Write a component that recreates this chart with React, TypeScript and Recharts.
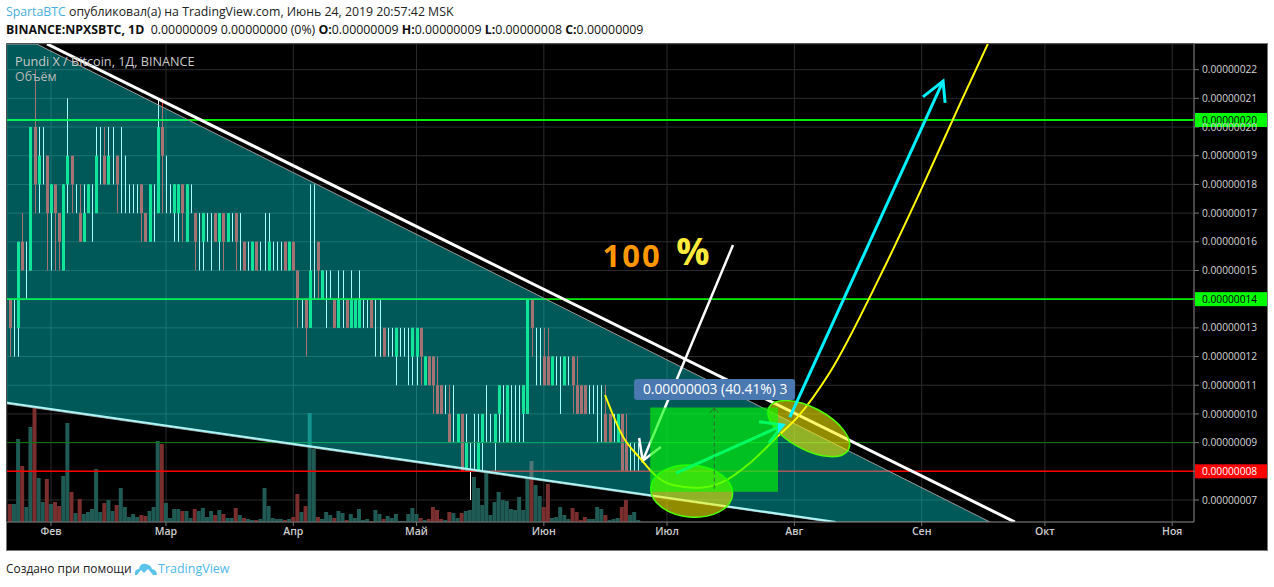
import React from 'react';
import { ComposedChart, Bar, Line, Area, Cell, XAxis, YAxis, CartesianGrid, ReferenceArea, ReferenceDot } from 'recharts';

// days are counted from Feb 1, prices are in satoshi
const START_DAY = -10;
const opens = [14,13,13,16,15,15,20,18,19,19,17,18,17,15,18,19,18,17,16,17,17,17,19,19,18,19,19,18,18,18,18,18,18,17,16,17,17,20,18,18,17,17,18,16,18,17,16,16,16,16,17,16,17,16,16,17,16,16,15,15,16,15,16,15,15,15,15,16,15,16,15,14,14,13,15,16,14,14,15,14,13,14,14,13,13,13,13,13,14,13,13,13,12,12,12,12,12,12,12,12,13,11,12,12,11,11,10,10,10,9,10,8,8,9,8,9,10,9,9,10,10,9,10,10,10,10,10,14,12,12,12,12,11,11,11,11,11,12,11,11,11,10,10,10,10,10,10,9,9,10,9,8,8,8];
const highs = [14,14,16,17,16,20,22,20,20,19,18,18,17,18,21,19,18,18,18,18,18,20,20,20,20,20,19,20,19,18,18,18,18,17,18,18,21,21,19,18,18,18,18,18,18,17,17,17,17,17,17,17,17,17,17,17,17,16,16,16,16,16,17,17,16,16,16,16,16,16,15,14,14,18,18,16,15,15,15,14,15,15,14,15,14,15,14,14,14,14,14,13,13,13,13,13,13,13,13,13,13,12,12,12,12,11,11,11,11,10,10,10,9,10,10,10,11,10,10,11,11,11,11,11,11,11,14,14,13,13,13,13,12,12,12,12,12,12,12,11,11,11,11,11,11,11,10,10,10,10,10,9,9,9];
const lows = [12,12,12,15,14,15,17,17,18,15,15,15,15,15,17,17,17,16,16,17,16,17,18,18,18,18,17,17,17,17,17,17,16,16,16,16,17,17,17,17,16,16,16,16,17,15,15,15,16,15,16,15,15,16,16,15,15,15,15,15,15,15,15,15,15,15,15,15,15,15,13,13,12,13,14,14,14,13,14,13,13,13,13,13,13,13,13,13,13,12,12,12,12,12,11,12,12,11,11,11,11,11,11,10,10,10,10,9,9,9,8,8,7,8,8,8,9,9,8,9,9,9,9,9,9,9,10,12,11,11,11,11,11,11,10,11,11,10,10,10,10,10,10,9,9,9,9,9,9,8,8,8,8,8];
const closes = [13,13,16,15,15,20,18,19,19,17,18,17,16,18,19,18,18,16,17,18,17,19,19,18,19,19,18,18,18,18,18,18,17,16,18,17,20,19,18,18,18,18,17,18,18,16,16,17,16,16,16,17,16,17,16,16,16,15,15,16,15,15,16,16,15,15,15,15,16,15,14,14,13,15,15,15,15,14,15,13,14,14,13,14,14,14,13,13,13,13,13,12,12,12,13,12,12,12,13,13,12,12,11,11,10,10,10,9,10,10,8,9,8,9,9,10,10,9,10,11,10,11,10,10,10,11,14,13,12,12,11,11,12,11,11,12,11,11,10,10,10,10,10,10,10,9,9,9,10,8,8,8,8,8];
const volumes = [18,18,83,56,15,95,115,44,20,43,18,20,16,46,99,30,9,23,8,10,13,53,10,19,22,11,17,34,15,5,8,5,7,6,11,15,81,78,19,4,13,13,11,11,4,13,11,14,5,11,7,12,8,4,4,14,7,4,3,2,2,3,34,16,4,3,3,2,3,5,28,10,16,109,73,5,3,10,7,4,11,9,2,8,4,13,2,3,1,12,8,3,6,4,8,1,1,8,14,8,4,2,3,15,12,3,2,10,9,4,9,11,12,45,34,17,50,7,20,30,22,21,13,12,25,12,43,61,37,26,15,38,4,5,15,7,3,14,10,2,5,3,3,15,13,7,2,3,4,15,22,7,10,2];
const redVolumeBars = [0,3,6,9,11,12,15,17,23,26,32,33,37,42,45,50,52,55,57,60,67,69,70,72,75,79,82,88,91,100,102,103,104,105,107,110,127,130,131,137,138,139,140,145,149,150];

const priceTicks = [7,8,9,10,11,12,13,14,15,16,17,18,19,20,21,22];
const taggedTicks = [8,14]; // the coloured price tags sit right on these two
const monthDays = [0,28,59,89,120,150,181,212,242,273];
const monthNames = ['Фев','Мар','Апр','Май','Июн','Июл','Авг','Сен','Окт','Ноя'];

const DAY_MIN = -10.71;
const DAY_MAX = 278.3;
const PRICE_MIN = 6.233;
const PRICE_MAX = 22.894;

const wedgeBand = [
  { day: -10.71, band: [10.35, PRICE_MAX] },
  { day: -3.48, band: [10.2, PRICE_MAX] },
  { day: 189.5, band: [PRICE_MIN, 9.05] },
  { day: 228.6, band: [PRICE_MIN, PRICE_MIN] },
];
const upperTrend = [{ day: -0.97, price: PRICE_MAX }, { day: 234.7, price: PRICE_MIN }];
const lowerTrend = [{ day: -10.71, price: 10.39 }, { day: 191.1, price: PRICE_MIN }];
const levelHigh = [{ day: DAY_MIN, price: 20.245 }, { day: DAY_MAX, price: 20.245 }];
const levelMid = [{ day: DAY_MIN, price: 14 }, { day: DAY_MAX, price: 14 }];
const levelClose = [{ day: DAY_MIN, price: 9 }, { day: DAY_MAX, price: 9 }];
const levelLow = [{ day: DAY_MIN, price: 8 }, { day: DAY_MAX, price: 8 }];

const whiteShaft = [{ day: 166.06, price: 15.89 }, { day: 144.07, price: 8.37 }];
const whiteHead = [{ day: 143.2, price: 9.16 }, { day: 144.07, price: 8.37 }, { day: 148.5, price: 8.85 }];
const cyanShaft = [{ day: 179.9, price: 9.89 }, { day: 217.2, price: 21.6 }];
const cyanHead = [{ day: 212.3, price: 21.05 }, { day: 217.2, price: 21.6 }, { day: 217.7, price: 20.84 }];
const entryShaft = [{ day: 152.2, price: 7.94 }, { day: 178.2, price: 9.61 }];
const entryHead = [{ day: 172.4, price: 9.73 }, { day: 178.2, price: 9.61 }, { day: 174.8, price: 8.99 }];
const yellowCurve = [
  { day: 134.9, price: 10.66 }, { day: 139.3, price: 9.2 }, { day: 143.4, price: 8.46 },
  { day: 147.6, price: 7.8 }, { day: 151.4, price: 7.52 }, { day: 157.3, price: 7.42 },
  { day: 163.6, price: 7.63 }, { day: 170.2, price: 8.29 }, { day: 176.8, price: 9.2 },
  { day: 181.6, price: 9.86 }, { day: 189.7, price: 11.46 }, { day: 201.9, price: 14.81 },
  { day: 211.6, price: 17.74 }, { day: 221.3, price: 20.8 }, { day: 228.1, price: PRICE_MAX },
];
const rangeStem = [{ day: 161.5, price: 10.22 }, { day: 161.5, price: 7.29 }];
const rangeChevron = [{ day: 160.4, price: 10.03 }, { day: 161.5, price: 10.21 }, { day: 162.5, price: 10.03 }];

const candles = opens.map((open, i) => ({
  day: START_DAY + i,
  open,
  high: highs[i],
  low: lows[i],
  close: closes[i],
  volume: volumes[i],
}));

const BODY_UP = '#19d662';
const BODY_DOWN = '#fe2929';
const priceLabel = (v: number) => `0.000000${String(v).padStart(2, '0')}`;
const FONT = '"Open Sans", sans-serif';

const CandleShape = ({ x, y, width, height, payload }: any) => {
  const { open, close, high, low } = payload;
  const span = Math.abs(height);
  const perUnit = span / (high - low);
  const top = y + (high - Math.max(open, close)) * perUnit;
  const bodyHeight = Math.abs(close - open) * perUnit;
  const center = Math.round(x + width / 2);
  const down = close < open;
  return (
    <g>
      <rect x={center} y={y} width={1} height={span} fill={down ? BODY_DOWN : '#ffffff'} />
      {bodyHeight > 0 && (
        <rect x={center - 1} y={top} width={3} height={bodyHeight} fill={down ? BODY_DOWN : BODY_UP} />
      )}
    </g>
  );
};

const PriceTag = ({ cx, cy, fill, color, text }: any) => (
  <g>
    <rect x={cx + 1} y={cy - 7} width={72} height={14} fill={fill} />
    <text x={cx + 8} y={cy + 4} fontSize={10.2} fontFamily={FONT} fill={color}>{text}</text>
  </g>
);

const Blob = ({ cx, cy, rx, ry, angle }: any) => (
  <ellipse cx={cx} cy={cy} rx={rx} ry={ry} transform={`rotate(${angle} ${cx} ${cy})`}
    fill="#fff500" fillOpacity={0.57} stroke="#4dff00" strokeWidth={1.5} />
);

const RangeBadge = ({ cx, cy }: any) => (
  <g>
    <rect x={cx - 81} y={cy - 11} width={161} height={21} rx={3} fill="#4a78b0" />
    <text x={cx} y={cy + 4} textAnchor="middle" fontSize={13.8} fontFamily={FONT} fill="#ffffff">
      0.00000003 (40.41%) 3
    </text>
  </g>
);

const BigText = ({ cx, cy, fill, size, text, spacing }: any) => (
  <text x={cx} y={cy} textAnchor="middle" dominantBaseline="middle" fontSize={size} fontWeight={700}
    letterSpacing={spacing} fontFamily={FONT} fill={fill}>{text}</text>
);

const TrendLine = (props: any) => (
  <Line yAxisId="price" dataKey="price" type="linear" dot={false} activeDot={false}
    isAnimationActive={false} legendType="none" {...props} />
);

export default function App() {
  return (
    <div style={{ position: 'absolute', left: 0, top: 0, width: 1274, height: 587, background: '#fff', overflow: 'hidden', fontFamily: FONT }}>
      <div style={{ position: 'absolute', left: 6, top: 3, fontSize: 12.3, color: '#222', whiteSpace: 'nowrap', lineHeight: '17px' }}>
        <span style={{ color: '#4aaee0' }}>SpartaBTC</span> опубликовал(а) на TradingView.com, Июнь 24, 2019 20:57:42 MSK
      </div>
      <div style={{ position: 'absolute', left: 6, top: 21, fontSize: 12.35, color: '#111', whiteSpace: 'nowrap', lineHeight: '17px' }}>
        <b>BINANCE:NPXSBTC, 1D</b>&nbsp; 0.00000009 0.00000000 (0%) <b>O:</b>0.00000009 <b>H:</b>0.00000009 <b>L:</b>0.00000008 <b>C:</b>0.00000009
      </div>
      <div style={{ position: 'absolute', left: 6, top: 43, width: 1260, height: 506, background: '#000', border: '1px solid #777' }} />

      <div style={{ position: 'absolute', left: 0, top: 0 }}>
        <ComposedChart width={1274} height={587} data={candles} margin={{ top: 44, right: 7, left: 7, bottom: 37 }}>
          <XAxis dataKey="day" type="number" domain={[DAY_MIN, DAY_MAX]} allowDataOverflow ticks={monthDays} interval={0}
            height={28} stroke="#777" tickSize={4} tick={{ fill: '#ccc', fontSize: 10.5, fontFamily: FONT, fontWeight: 600 }}
            tickFormatter={(d: number) => monthNames[monthDays.indexOf(d)]} />
          <XAxis xAxisId="vol" dataKey="day" type="number" domain={[DAY_MIN, DAY_MAX]} allowDataOverflow hide />
          <YAxis yAxisId="price" orientation="right" width={73} domain={[PRICE_MIN, PRICE_MAX]} allowDataOverflow ticks={priceTicks} interval={0}
            stroke="#777" tickSize={5} tickMargin={3} tick={{ fill: '#d4d4d4', fontSize: 10.2, fontFamily: FONT }}
            tickFormatter={(v: number) => (taggedTicks.includes(v) ? '' : priceLabel(v))} />
          <YAxis yAxisId="vol" hide domain={[0, 478]} allowDataOverflow />
          <CartesianGrid yAxisId="price" stroke="#2c2c2c" strokeWidth={1} />

          <Bar xAxisId="vol" yAxisId="vol" dataKey="volume" barSize={4} isAnimationActive={false} zIndex={10}>
            {candles.map((c, i) => (
              <Cell key={c.day} fill={redVolumeBars.includes(i) ? '#7a2e2e' : '#1f5a55'} />
            ))}
          </Bar>
          <Bar yAxisId="price" dataKey={(c: any) => [c.low, c.high]} barSize={3} shape={(p: any) => <CandleShape {...p} />}
            isAnimationActive={false} zIndex={20} />

          <TrendLine data={levelClose} stroke="#0f7a0f" strokeWidth={1} zIndex={30} />
          <TrendLine data={levelLow} stroke="#ff0000" strokeWidth={1.6} zIndex={30} />
          <TrendLine data={levelMid} stroke="#00ee00" strokeWidth={1.8} zIndex={30} />
          <TrendLine data={levelHigh} stroke="#00ee00" strokeWidth={1.8} zIndex={30} />

          <Area yAxisId="price" data={wedgeBand} dataKey="band" type="linear" fill="#00ffff" fillOpacity={0.35}
            stroke="#9a9a9a" strokeWidth={1} dot={false} activeDot={false} isAnimationActive={false} zIndex={40} />
          <TrendLine data={upperTrend} stroke="#ffffff" strokeWidth={3} zIndex={50} />
          <TrendLine data={lowerTrend} stroke="#aef6f6" strokeWidth={2} zIndex={50} />

          <TrendLine data={whiteShaft} stroke="#ffffff" strokeWidth={2.5} zIndex={55} />
          <TrendLine data={whiteHead} stroke="#ffffff" strokeWidth={2.5} zIndex={55} />
          <TrendLine data={yellowCurve} type="monotone" stroke="#ffff00" strokeWidth={2} zIndex={60} />

          <ReferenceDot yAxisId="price" x={156} y={7.31} zIndex={62} shape={(p: any) => <Blob {...p} rx={41} ry={26} angle={5} />} />
          <ReferenceDot yAxisId="price" x={184.5} y={9.49} zIndex={62} shape={(p: any) => <Blob {...p} rx={45} ry={21} angle={28} />} />

          <TrendLine data={entryShaft} stroke="#00ffff" strokeWidth={3} zIndex={65} />
          <TrendLine data={entryHead} stroke="#00ffff" strokeWidth={3} zIndex={65} />
          <TrendLine data={cyanShaft} stroke="#00f0ff" strokeWidth={3} zIndex={65} />
          <TrendLine data={cyanHead} stroke="#00f0ff" strokeWidth={3} zIndex={65} />

          <ReferenceArea yAxisId="price" x1={145.9} x2={177} y1={7.29} y2={10.22} fill="#00ff00" fillOpacity={0.62} stroke="none" zIndex={70} />
          <TrendLine data={rangeStem} stroke="#2f6f2f" strokeWidth={1} strokeDasharray="4 3" zIndex={72} />
          <TrendLine data={rangeChevron} stroke="#2f6f2f" strokeWidth={1} zIndex={72} />

          <ReferenceDot yAxisId="price" x={161.7} y={10.83} zIndex={95} shape={(p: any) => <RangeBadge {...p} />} />
          <ReferenceDot yAxisId="price" x={141.5} y={15.4} zIndex={95} shape={(p: any) => <BigText {...p} fill="#ff9800" size={31} spacing={2} text="100" />} />
          <ReferenceDot yAxisId="price" x={156.3} y={15.55} zIndex={95} shape={(p: any) => <BigText {...p} fill="#ffeb3b" size={37} text="%" />} />

          <ReferenceDot yAxisId="price" x={DAY_MAX} y={20.245} zIndex={900} shape={(p: any) => <PriceTag {...p} fill="#00ff00" color="#000" text="0.00000020" />} />
          <ReferenceDot yAxisId="price" x={DAY_MAX} y={14} zIndex={900} shape={(p: any) => <PriceTag {...p} fill="#00ff00" color="#000" text="0.00000014" />} />
          <ReferenceDot yAxisId="price" x={DAY_MAX} y={8} zIndex={900} shape={(p: any) => <PriceTag {...p} fill="#ff0000" color="#fff" text="0.00000008" />} />
        </ComposedChart>
      </div>

      <div style={{ position: 'absolute', left: 15, top: 53, fontSize: 12.7, color: '#c8c8c8', whiteSpace: 'nowrap', lineHeight: '16px' }}>Pundi X / Bitcoin, 1Д, BINANCE</div>
      <div style={{ position: 'absolute', left: 15, top: 69, fontSize: 12.4, color: '#b8b8b8', whiteSpace: 'nowrap', lineHeight: '16px' }}>Объём</div>

      <div style={{ position: 'absolute', left: 6, top: 560, fontSize: 11.9, color: '#222', whiteSpace: 'nowrap', lineHeight: '17px' }}>Создано при помощи</div>
      <svg style={{ position: 'absolute', left: 134, top: 560 }} width={24} height={17} viewBox="0 0 24 17">
        <path d="M1 15 Q0 9 5 9 Q6 3 12 4 Q17 5 18 9 Q23 10 23 15 L19 15 L14 9 L10 13 L7 10 L3 15 Z" fill="#5cc4ea" />
      </svg>
      <div style={{ position: 'absolute', left: 158, top: 560, fontSize: 12.5, color: '#4db8e8', whiteSpace: 'nowrap', lineHeight: '17px' }}>TradingView</div>
    </div>
  );
}
